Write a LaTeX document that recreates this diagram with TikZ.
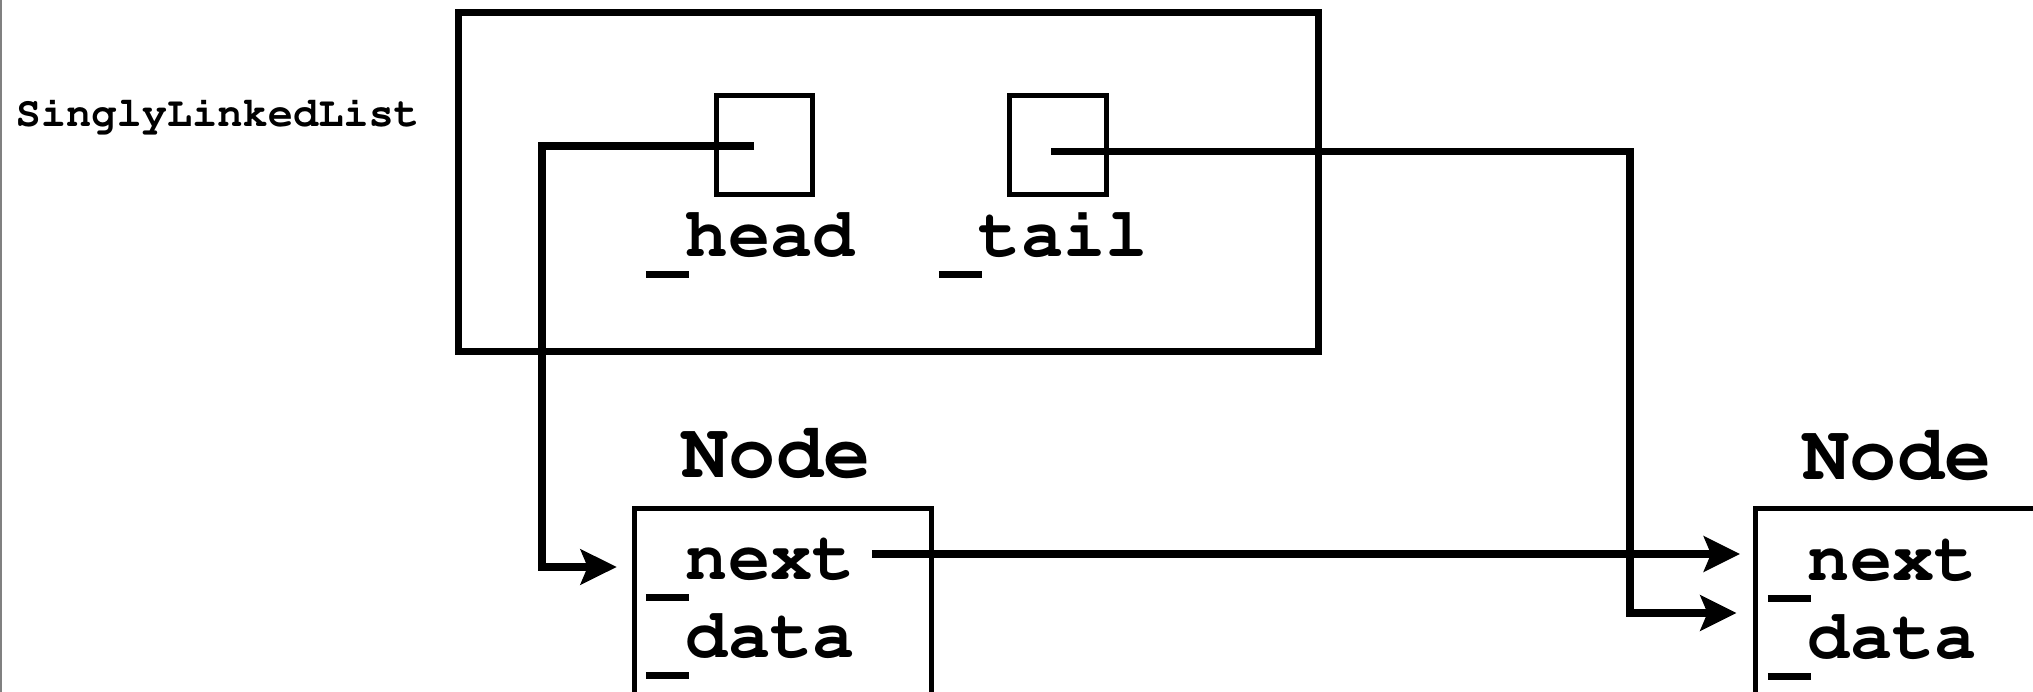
\documentclass[tikz,border=0pt]{standalone}
\usepackage[T1]{fontenc}
\usepackage{tikz}
\usetikzlibrary{arrows.meta,positioning}
\newcommand{\codefont}[1]{\fontfamily{pcr}\fontseries{b}\fontsize{#1}{#1}\selectfont}
% a heavier, lower underscore, as in Courier New
\newcommand{\us}{\makebox[0.6em][l]{\hspace{0.03em}\rule[-0.30em]{0.62em}{0.095em}}}

\begin{document}
\begin{tikzpicture}[x=0.01cm,y=-0.01cm,
    listframe/.style={draw,line width=0.07cm,inner sep=0pt,outer sep=0pt},
    ptrbox/.style={draw,line width=0.05cm,inner sep=0pt,outer sep=0pt,
      minimum width=0.965cm,minimum height=0.984cm},
    nodebox/.style={draw,line width=0.05cm,inner sep=0pt,outer sep=0pt,
      anchor=north west,minimum width=2.975cm,minimum height=2.915cm},
    field/.style={anchor=base west,inner sep=0pt,font=\codefont{20}},
    classname/.style={anchor=base west,inner sep=0pt,font=\codefont{22.4}},
    link/.style={line width=0.075cm,
      -{Stealth[length=0.36cm,width=0.35cm,inset=0.07cm]}},
  ]
  \clip (0,0) rectangle (2033,692);
  \fill[white] (0,0) rectangle (2033,692);
  \draw[gray,line width=0.015cm] (0.75,0) -- (0.75,692);

  % the list object with its two pointers
  \node[anchor=base west,inner sep=0pt,font=\codefont{11.95}] (listname)
    at (15,126.7) {SinglyLinkedList};
  \node[listframe,minimum width=8.593cm,minimum height=3.385cm] (listbox)
    at (888.35,182.25) {};
  \node[ptrbox] (headbox) at (764.5,145) {};
  \node[ptrbox] (tailbox) at (1057.9,145) {};
  \node[field] (headname) at (643,257) {\us head};
  \node[field] (tailname) at (936,257) {\us tail};

  % first node
  \node[classname] (n1name) at (681,478) {Node};
  \node[nodebox] (n1box) at (634,508.5) {};
  \node[field] (n1next) at (643,580) {\us next};
  \node[field] (n1data) at (643,658) {\us data};

  % second node
  \node[classname] (n2name) at (1802,480) {Node};
  \node[nodebox] (n2box) at (1755.4,509) {};
  \node[field] (n2next) at (1765,581) {\us next};
  \node[field] (n2data) at (1765,659) {\us data};

  % pointers
  \coordinate (headsrc) at (754,146);
  \coordinate (headin) at (616.7,567);
  \coordinate (tailsrc) at (1051,151.5);
  \coordinate (tailin) at (1736.5,613);
  \coordinate (nextsrc) at (872.4,554);
  \coordinate (nextin) at (1740,554);
  \draw[link] (headsrc) -- ++(-212.2,0) |- (headin);
  \draw[link] (tailsrc) -- ++(578.8,0) |- (tailin);
  \draw[link] (nextsrc) -- (nextin);
\end{tikzpicture}
\end{document}
